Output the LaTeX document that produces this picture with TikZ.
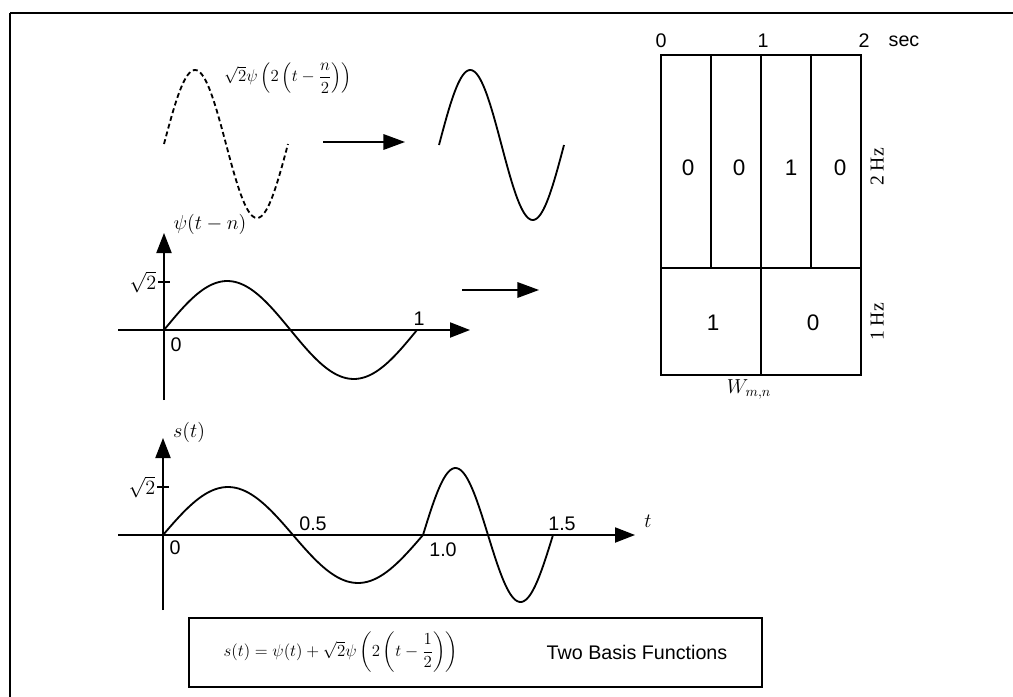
\documentclass[tikz,border=0pt]{standalone}
\usepackage{fontspec}
\setmainfont{Liberation Sans}
\newfontfamily\hzfont{Liberation Serif}
\usepackage{amsmath}
\usetikzlibrary{arrows.meta, positioning}
\tikzset{
	wave/.style={
			line width=1.3pt
		},
	dashwave/.style={
			wave,
			dash pattern=on 3.5pt off 2.2pt
		},
	axisline/.style={
			line width=1pt,
			-{Triangle[length=5mm,width=3.8mm]}
		},
	shiftarrow/.style={
			line width=1pt,
			-{Triangle[length=5.4mm,width=3.9mm]}
		},
	gridline/.style={
			line width=0.9pt
		},
	ticklabel/.style={
			inner sep=1pt,
			font=\fontsize{14}{16}\selectfont
		},
	cellvalue/.style={
			inner sep=1pt,
			font=\fontsize{16}{18}\selectfont
		},
	formula/.style={
			inner sep=1pt,
			font=\fontsize{13}{16}\selectfont
		}
}

\begin{document}
\begin{tikzpicture}[x=0.025cm, y=-0.025cm]
\useasboundingbox (0,0) rectangle (1013,697);

% outer frame
\coordinate (fbl) at (10,697);
\coordinate (ftl) at (10,13);
\coordinate (ftr) at (1013,13);
\draw[line width=1pt] (fbl) -- (ftl);
\draw[line width=2pt] (ftl) -- (ftr);

% top row: dashed and solid basis function
\draw[dashwave] plot[domain=0:360, samples=80] ({164+\x/360*124}, {144-74*sin(\x)});
\draw[wave] plot[domain=0:360, samples=80] ({439+\x/360*125}, {145-75*sin(\x)});
\node[formula] (fshift) at (288,78) {$\sqrt{2}\psi\left(2\left(t-\dfrac{n}{2}\right)\right)$};

\coordinate (a1s) at (323,142);
\coordinate (a1e) at (405,142);
\draw[shiftarrow] (a1s) -- (a1e);

% middle axes: psi(t-n)
\coordinate (x1s) at (118,330);
\coordinate (x1e) at (470,330);
\coordinate (y1s) at (164,400);
\coordinate (y1e) at (164,233);
\draw[axisline] (x1s) -- (x1e);
\draw[axisline] (y1s) -- (y1e);
\draw[wave] plot[domain=0:360, samples=80] ({164+\x/360*253}, {330-49*sin(\x)});
\coordinate (t1l) at (158,282);
\coordinate (t1r) at (170,282);
\draw[line width=1pt] (t1l) -- (t1r);
\node[ticklabel, anchor=east] (sq1) at (t1l) {$\sqrt{2}$};
\node[ticklabel] (psi) at (210,224) {$\psi(t-n)$};
\node[ticklabel] (o1) at (176,345) {0};
\node[ticklabel] (one1) at (419,319) {1};

\coordinate (a2s) at (462,290);
\coordinate (a2e) at (539,290);
\draw[shiftarrow] (a2s) -- (a2e);

% lower axes: s(t)
\coordinate (x2s) at (118,535);
\coordinate (x2e) at (635,535);
\coordinate (y2s) at (163,610);
\coordinate (y2e) at (163,438);
\draw[axisline] (x2s) -- (x2e);
\draw[axisline] (y2s) -- (y2e);
\draw[wave] plot[domain=0:360, samples=80] ({163+\x/360*260}, {535-48*sin(\x)});
\draw[wave] plot[domain=0:360, samples=80] ({423+\x/360*130}, {535-67*sin(\x)});
\coordinate (t2l) at (157,487);
\coordinate (t2r) at (169,487);
\draw[line width=1pt] (t2l) -- (t2r);
\node[ticklabel, anchor=east] (sq2) at (t2l) {$\sqrt{2}$};
\node[ticklabel] (st) at (189,432) {$s(t)$};
\node[ticklabel] (tl) at (648,521) {$t$};
\node[ticklabel] (o2) at (175,548) {0};
\node[ticklabel] (half) at (313,524) {0.5};
\node[ticklabel] (onept) at (443,550) {1.0};
\node[ticklabel] (onehalf) at (562,524) {1.5};

% summary box
\coordinate (bxa) at (189,618);
\coordinate (bxb) at (762,687);
\draw[line width=1.3pt] (bxa) rectangle (bxb);
\node[formula] (fsum) at (341,652) {$s(t)=\psi(t)+\sqrt{2}\psi\left(2\left(t-\dfrac{1}{2}\right)\right)$};
\node[ticklabel] (twob) at (637,652) {Two Basis Functions};

% time-frequency tiling
\coordinate (ga) at (661,55);
\coordinate (gb) at (861,375);
\draw[gridline] (ga) rectangle (gb);
\draw[gridline] (661,268) -- (861,268);
\foreach \gx in {711,761,811}
  \draw[gridline] (\gx,55) -- (\gx,268);
\draw[gridline] (761,268) -- (761,375);
\node[ticklabel] (s0) at (661,41) {0};
\node[ticklabel] (s1) at (763,41) {1};
\node[ticklabel] (s2) at (864,41) {2};
\node[ticklabel] (sec) at (904,41) {sec};
\node[cellvalue] (c1) at (688,168) {0};
\node[cellvalue] (c2) at (739,168) {0};
\node[cellvalue] (c3) at (791,168) {1};
\node[cellvalue] (c4) at (840,168) {0};
\node[cellvalue] (c5) at (713,323) {1};
\node[cellvalue] (c6) at (813,323) {0};
\node[ticklabel, rotate=90] (hz2) at (877,167) {\hzfont 2 Hz};
\node[ticklabel, rotate=90] (hz1) at (877,322) {\hzfont 1 Hz};
\node[ticklabel] (wmn) at (749,389) {$W_{m,n}$};
\end{tikzpicture}
\end{document}
